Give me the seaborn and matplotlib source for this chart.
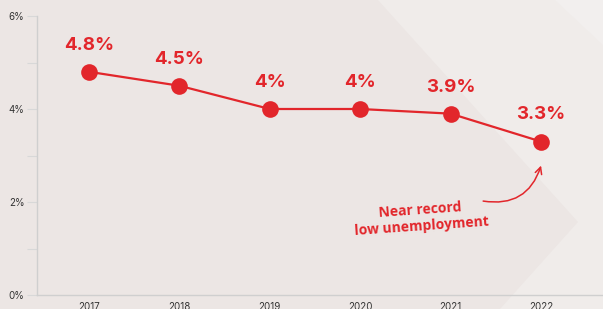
import matplotlib
matplotlib.use("Agg")
import matplotlib.pyplot as plt
import matplotlib.patches as mpatches
import seaborn as sns
import pandas as pd

years = ["2017", "2018", "2019", "2020", "2021", "2022"]
rates = [4.8, 4.5, 4.0, 4.0, 3.9, 3.3]
point_labels = ["4.8%", "4.5%", "4%", "4%", "3.9%", "3.3%"]
y_ticks = [0, 2, 4, 6]
y_tick_labels = ["0%", "2%", "4%", "6%"]
note_text = "Near record\nlow unemployment"

RED = "#e2262b"
BG = "#ece6e4"
AXIS = "#cfcfcf"

sns.set_style("white")
plt.rcParams["font.family"] = ["Inter", "DejaVu Sans"]

df = pd.DataFrame({"year": years, "rate": rates})
df["pos"] = range(len(df))

fig = plt.figure(figsize=(6.03, 3.09), dpi=100)
fig.patch.set_facecolor(BG)

# faint chevron shading behind the chart
bg = fig.add_axes([0, 0, 1, 1], zorder=0)
bg.set_xlim(0, 603)
bg.set_ylim(309, 0)
bg.axis("off")
bg.add_patch(mpatches.Polygon([(378, 0), (603, 0), (603, 309), (500, 309), (578, 222)],
                              closed=True, facecolor="#f0ecea", edgecolor="none"))
bg.add_patch(mpatches.Polygon([(555, 0), (603, 0), (603, 45)],
                              closed=True, facecolor="#f2efee", edgecolor="none"))

ax = fig.add_axes([37 / 603, 1 - 295 / 309, 1 - 37 / 603, (295 - 16) / 309], zorder=2)
ax.set_facecolor("none")

sns.lineplot(data=df, x="pos", y="rate", ax=ax, color=RED, linewidth=1.6,
             marker="o", markersize=12, markeredgewidth=0, markerfacecolor=RED)

for x, y, lab in zip(df["pos"], df["rate"], point_labels):
    ax.annotate(lab, (x, y), xytext=(0, 13), textcoords="offset points",
                ha="center", va="bottom", color=RED, fontsize=13.5, fontweight="bold")

ax.set_xlim(-0.575, 5.686)
ax.set_ylim(0, 6)
ax.set_xticks(df["pos"])
ax.set_xticklabels(years)
ax.set_yticks(y_ticks)
ax.set_yticklabels(y_tick_labels)
ax.set_yticks([1, 3, 5], minor=True)
ax.set_xlabel("")
ax.set_ylabel("")

for side in ["top", "right"]:
    ax.spines[side].set_visible(False)
for side in ["left", "bottom"]:
    ax.spines[side].set_color(AXIS)
    ax.spines[side].set_linewidth(1)
ax.tick_params(axis="y", which="both", left=True, length=7, width=0.8, color="#d8d8d8",
               labelsize=7, labelcolor="#333333", pad=2)
ax.tick_params(axis="x", bottom=False, labelsize=7, labelcolor="#333333", pad=1.5)

ax.annotate("", xy=(5.01, 2.84), xytext=(4.33, 2.03),
            arrowprops=dict(arrowstyle="->", color=RED, lw=1.1,
                            connectionstyle="arc3,rad=0.45", mutation_scale=12))
ax.text(3.67, 1.65, note_text, ha="center", va="center", color=RED, fontsize=10,
        fontweight="bold", rotation=4, linespacing=1.2, family=["Open Sans", "DejaVu Sans"])

fig.savefig("out.png", dpi=100, facecolor=BG)
